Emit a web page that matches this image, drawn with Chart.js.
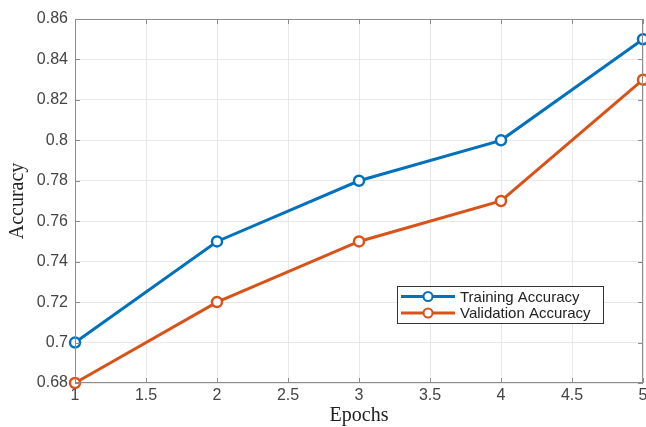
<!DOCTYPE html>
<html><head><meta charset="utf-8">
<script src="https://cdn.jsdelivr.net/npm/chart.js@4/dist/chart.umd.min.js"></script>
<style>html,body{margin:0;padding:0;background:#fff}#wrap{width:646px;height:427px;position:relative}</style>
</head><body><div id="wrap"><canvas id="c" width="646" height="427"></canvas></div>
<script>
const epochs = [1, 2, 3, 4, 5];
const trainingAccuracy = [0.70, 0.75, 0.78, 0.80, 0.85];
const validationAccuracy = [0.68, 0.72, 0.75, 0.77, 0.83];
const xTicks = [1, 1.5, 2, 2.5, 3, 3.5, 4, 4.5, 5];
const yTicks = [0.68, 0.70, 0.72, 0.74, 0.76, 0.78, 0.80, 0.82, 0.84, 0.86];
const seriesNames = ['Training Accuracy', 'Validation Accuracy'];
const seriesColors = ['#0072BD', '#D95319'];

const fmt = v => String(parseFloat(v.toFixed(4)));

const boxPlugin = {
  id: 'boxTicks',
  afterDraw(chart) {
    const {ctx, chartArea: a, scales} = chart;
    ctx.save();
    ctx.strokeStyle = '#8c8c8c';
    ctx.lineWidth = 1;
    ctx.strokeRect(a.left + 0.5, a.top + 0.5, a.right - a.left - 1, a.bottom - a.top - 1);
    ctx.beginPath();
    const L = 5;
    xTicks.forEach(t => {
      const x = Math.round(scales.x.getPixelForValue(t)) + 0.5;
      ctx.moveTo(x, a.bottom); ctx.lineTo(x, a.bottom - L);
      ctx.moveTo(x, a.top); ctx.lineTo(x, a.top + L);
    });
    yTicks.forEach(t => {
      const y = Math.round(scales.y.getPixelForValue(t)) + 0.5;
      ctx.moveTo(a.left, y); ctx.lineTo(a.left + L, y);
      ctx.moveTo(a.right, y); ctx.lineTo(a.right - L, y);
    });
    ctx.stroke();
    // legend
    const lx = 397, ly = 286, lw = 206, lh = 37;
    ctx.fillStyle = '#fff';
    ctx.fillRect(lx, ly, lw, lh);
    ctx.strokeStyle = '#333';
    ctx.strokeRect(lx + 0.5, ly + 0.5, lw, lh);
    ctx.font = '15px "Liberation Sans", Arial, sans-serif';
    ctx.textBaseline = 'middle';
    seriesNames.forEach((n, i) => {
      const y = ly + 10.5 + i * 16.5;
      ctx.strokeStyle = seriesColors[i];
      ctx.lineWidth = 3;
      ctx.beginPath(); ctx.moveTo(lx + 4, y); ctx.lineTo(lx + 58, y); ctx.stroke();
      ctx.lineWidth = 2;
      ctx.fillStyle = '#fff';
      ctx.beginPath(); ctx.arc(lx + 31, y, 4.5, 0, Math.PI * 2); ctx.fill(); ctx.stroke();
      ctx.fillStyle = '#222';
      ctx.fillText(n, lx + 63, y + 1);
    });
    ctx.restore();
  }
};

new Chart(document.getElementById('c'), {
  type: 'line',
  data: {
    datasets: [0, 1].map(i => ({
      label: seriesNames[i],
      data: epochs.map((e, k) => ({x: e, y: i === 0 ? trainingAccuracy[k] : validationAccuracy[k]})),
      borderColor: seriesColors[i],
      backgroundColor: '#fff',
      borderWidth: 3,
      pointRadius: 5,
      pointBorderWidth: 2.5,
      pointBackgroundColor: '#fff',
      pointBorderColor: seriesColors[i],
      tension: 0,
      clip: 8
    }))
  },
  options: {
    responsive: false,
    animation: false,
    layout: {autoPadding: false, padding: {left: 0, right: 3, top: 19, bottom: 0}},
    plugins: {legend: {display: false}, tooltip: {enabled: false}},
    scales: {
      x: {
        type: 'linear', min: 1, max: 5,
        afterBuildTicks: s => { s.ticks = xTicks.map(v => ({value: v})); },
        afterFit: s => { s.height = 44; s.paddingRight = 0; s.paddingLeft = 0; },
        ticks: {callback: v => fmt(v), color: '#444', font: {family: '"Liberation Sans", Arial, sans-serif', size: 16}, padding: 3, maxRotation: 0},
        grid: {color: '#e8e8e8', drawTicks: false, lineWidth: 1},
        border: {display: false},
        title: {display: true, text: 'Epochs', color: '#222', font: {family: '"Liberation Serif", "Times New Roman", serif', size: 20}, padding: {top: 0, bottom: -1}}
      },
      y: {
        type: 'linear', min: 0.68, max: 0.86,
        afterBuildTicks: s => { s.ticks = yTicks.map(v => ({value: v})); },
        afterFit: s => { s.width = 75; s.paddingTop = 0; s.paddingBottom = 0; },
        ticks: {callback: v => fmt(v), color: '#444', font: {family: '"Liberation Sans", Arial, sans-serif', size: 16}, padding: 7},
        grid: {color: '#e8e8e8', drawTicks: false, lineWidth: 1},
        border: {display: false},
        title: {display: true, text: 'Accuracy', color: '#222', font: {family: '"Liberation Serif", "Times New Roman", serif', size: 20}, padding: {top: 6, bottom: 0}}
      }
    }
  },
  plugins: [boxPlugin]
});
</script></body></html>
